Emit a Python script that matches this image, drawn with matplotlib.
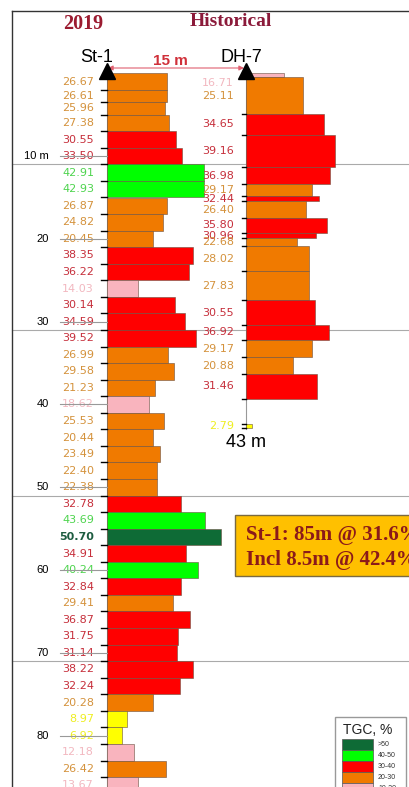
import matplotlib
matplotlib.use('Agg')
import matplotlib.pyplot as plt
from matplotlib.patches import Rectangle
import numpy as np

W, H = 409, 787

# St-1 interval boundaries (m) and TGC grade (%)
st1_depth = [0, 2, 3.5, 5, 7, 9, 11, 13, 15, 17, 19, 21, 23, 25, 27, 29, 31, 33,
             35, 37, 39, 41, 43, 45, 47, 49, 51, 53, 55, 57, 59, 61, 63, 65, 67,
             69, 71, 73, 75, 77, 79, 81, 83, 85, 87]
st1_tgc = [26.67, 26.61, 25.96, 27.38, 30.55, 33.50, 42.91, 42.93, 26.87, 24.82,
           20.45, 38.35, 36.22, 14.03, 30.14, 34.59, 39.52, 26.99, 29.58, 21.23,
           18.62, 25.53, 20.44, 23.49, 22.40, 22.38, 32.78, 43.69, 50.70, 34.91,
           40.24, 32.84, 29.41, 36.87, 31.75, 31.14, 38.22, 32.24, 20.28, 8.97,
           6.92, 12.18, 26.42, 13.67]

# DH-7 (historical) intervals
dh7_from = [0, 0.5, 4.9, 7.4, 11.3, 13.4, 14.85, 15.45, 17.45, 19.3, 19.9, 20.85,
            23.9, 27.4, 30.4, 32.2, 34.3, 36.3, 42.4]
dh7_to = [0.5, 4.9, 7.4, 11.3, 13.4, 14.85, 15.45, 17.45, 19.3, 19.9, 20.85, 23.9,
          27.4, 30.4, 32.2, 34.3, 36.3, 39.3, 42.8]
dh7_tgc = [16.71, 25.11, 34.65, 39.16, 36.98, 29.17, 32.44, 26.40, 35.80, 30.96,
           22.68, 28.02, 27.83, 30.55, 36.92, 29.17, 20.88, 31.46, 2.79]

depth_ticks = [10, 20, 30, 40, 50, 60, 70, 80]
depth_labels = ['10 m', '20', '30', '40', '50', '60', '70', '80']
grid_depths = [11, 31, 51, 71]

class_names = ['>50', '40-50', '30-40', '20-30', '10-20', '<10']
class_lower = [50, 40, 30, 20, 10, 0]
bar_colors = ['#0E6B36', '#00FF00', '#FF0000', '#F07A00', '#F9B4BE', '#FFFF00']
text_colors = ['#1D5C40', '#4ED44E', '#C62F3B', '#D4923C', '#F2B8C0', '#EEEE20']

# pixel <-> data mapping
X0_PX, PX_PER_PCT = 106.7, 2.26
Y0_PX, PX_PER_M = 73.3, 8.28
DH7_X = (246 - X0_PX) / PX_PER_PCT


def cls(v):
    for i, lo in enumerate(class_lower):
        if v >= lo:
            return i
    return len(class_lower) - 1


def dx(px):
    return (px - X0_PX) / PX_PER_PCT


def dy(py):
    return (py - Y0_PX) / PX_PER_M


def fx(px):
    return px / W


def fy(py):
    return 1 - py / H


plt.rcParams['font.family'] = ['DejaVu Sans']
fig = plt.figure(figsize=(W / 100, H / 100), dpi=100)
fig.patch.set_facecolor('white')
ax = fig.add_axes([0, 0, 1, 1])
ax.set_xlim(dx(0), dx(W))
ax.set_ylim(dy(H), dy(0))
ax.axis('off')

# frame and slide guide lines
ax.plot([dx(12), dx(12)], [dy(11), dy(H + 5)], color='#333333', lw=1.0, clip_on=False)
ax.plot([dx(12), dx(W + 5)], [dy(11), dy(11)], color='#333333', lw=1.0, clip_on=False)
for g in grid_depths:
    ax.plot([dx(12), dx(W + 5)], [g, g], color='#AAAAAA', lw=0.8, zorder=1)

# St-1 column
st1_d = np.array(st1_depth)
st1_top, st1_bot = st1_d[:-1], st1_d[1:]
st1_cls = [cls(v) for v in st1_tgc]
ax.plot([0, 0], [0, 87], color='#999999', lw=0.8, zorder=1)
for d in depth_ticks:
    ax.plot([dx(60), 0], [d, d], color='#999999', lw=0.8, zorder=4)
ax.barh((st1_top + st1_bot) / 2, st1_tgc, height=st1_bot - st1_top, left=0,
        color=[bar_colors[c] for c in st1_cls], edgecolor='#6A5040', lw=0.4, zorder=3)
for b in st1_depth[1:]:
    ax.plot([dx(101), 0], [b, b], color='black', lw=1.0, zorder=4)
for v, t, b, c in zip(st1_tgc, st1_top, st1_bot, st1_cls):
    ax.text(dx(94), (t + b) / 2, f'{v:.2f}', ha='right', va='center', fontsize=8,
            color=text_colors[c], fontweight='bold' if c == 0 else 'normal', zorder=3)
for d, lab in zip(depth_ticks, depth_labels):
    ax.text(dx(49), d, lab, ha='right', va='center', fontsize=8,
            family=['Liberation Sans'], color='black')

# DH-7 column
dh_top, dh_bot = np.array(dh7_from), np.array(dh7_to)
dh_cls = [cls(v) for v in dh7_tgc]
ax.plot([DH7_X, DH7_X], [0, 43], color='#999999', lw=0.8, zorder=1)
ax.barh((dh_top + dh_bot) / 2, dh7_tgc, height=dh_bot - dh_top, left=DH7_X,
        color=[bar_colors[c] for c in dh_cls], edgecolor='#6A5040', lw=0.4, zorder=3)
for b in sorted(set(dh7_from[1:] + dh7_to)):
    ax.plot([DH7_X - 1.8, DH7_X], [b, b], color='black', lw=1.0, zorder=4)
for i, (v, t, b, c) in enumerate(zip(dh7_tgc, dh_top, dh_bot, dh_cls)):
    yl = (t + b) / 2
    if i == 0:
        yl = 1.2
    ax.text(dx(234), yl, f'{v:.2f}', ha='right', va='center', fontsize=8,
            color=text_colors[c], zorder=5)
ax.text(DH7_X, dy(443), '43 m', ha='center', va='center', fontsize=13,
        family=['Liberation Sans'], color='black')

# collars, hole names and spacing arrow
ax.plot([0, DH7_X], [dy(71), dy(71)], ls='none', marker='^', ms=11, color='black',
        zorder=6, clip_on=False)
ax.annotate('', xy=(dx(108), dy(68)), xytext=(dx(244), dy(68)),
            arrowprops=dict(arrowstyle='<|-|>', color='#E06070', lw=0.8,
                            mutation_scale=7, shrinkA=0, shrinkB=0))
ax.text(dx(97), dy(58), 'St-1', ha='center', va='center', fontsize=13,
        family=['Liberation Sans'], color='black')
ax.text(dx(241), dy(57), 'DH-7', ha='center', va='center', fontsize=13,
        family=['Liberation Sans'], color='black')
ax.text(dx(170), dy(61), '15 m', ha='center', va='center', fontsize=11,
        fontweight='bold', family=['Liberation Sans'], color='#D0303A')

# headers
fig.text(fx(83), fy(24), '2019', ha='center', va='center', fontsize=14.5,
         fontweight='bold', family=['Liberation Serif'], color='#9B1B30')
fig.text(fx(231), fy(22), 'Historical', ha='center', va='center', fontsize=14,
         fontweight='bold', family=['Liberation Serif'], color='#8B1A3A')

# intercept box
fig.add_artist(Rectangle((fx(235), fy(576)), (425 - 235) / W, (576 - 515) / H,
                         transform=fig.transFigure, facecolor='#FFC000',
                         edgecolor='#7A6A40', lw=1.0))
fig.text(fx(246), fy(535), 'St-1: 85m @ 31.6%', ha='left', va='center', fontsize=15,
         fontweight='bold', family=['Liberation Serif'], color='#8B1A1A')
fig.text(fx(246), fy(560), 'Incl 8.5m @ 42.4%', ha='left', va='center', fontsize=15,
         fontweight='bold', family=['Liberation Serif'], color='#8B1A1A')

# legend
fig.add_artist(Rectangle((fx(335), fy(810)), (406 - 335) / W, (810 - 717) / H,
                         transform=fig.transFigure, facecolor='white',
                         edgecolor='#999999', lw=1.0))
fig.text(fx(343), fy(730), 'TGC, %', ha='left', va='center', fontsize=10,
         family=['Liberation Sans'], color='#222222')
for i, (name, col) in enumerate(zip(class_names, bar_colors)):
    top = 739 + 11 * i
    fig.add_artist(Rectangle((fx(342), fy(top + 11)), 31 / W, 11 / H,
                             transform=fig.transFigure, facecolor=col,
                             edgecolor='#555555', lw=0.5))
    fig.text(fx(378), fy(top + 5.5), name, ha='left', va='center', fontsize=5,
             family=['Liberation Sans'], color='#333333')

fig.savefig('out.png', dpi=100)
